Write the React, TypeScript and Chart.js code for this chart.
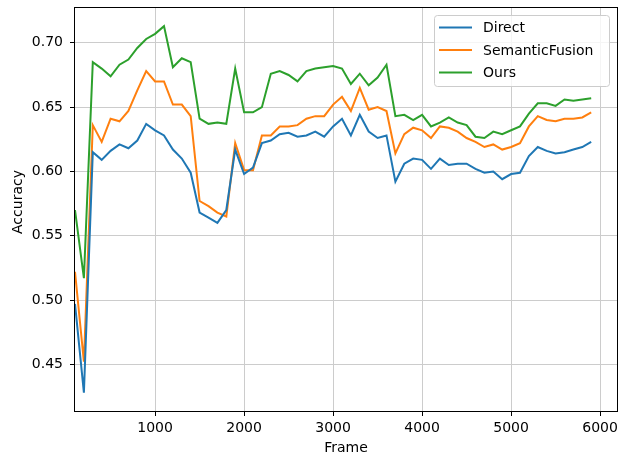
import { useEffect, useRef } from "react";
import { Chart, registerables } from "chart.js";

Chart.register(...registerables);

const frames = [
  100, 200, 300, 400, 500, 600, 700, 800, 900, 1000,
  1100, 1200, 1300, 1400, 1500, 1600, 1700, 1800, 1900, 2000,
  2100, 2200, 2300, 2400, 2500, 2600, 2700, 2800, 2900, 3000,
  3100, 3200, 3300, 3400, 3500, 3600, 3700, 3800, 3900, 4000,
  4100, 4200, 4300, 4400, 4500, 4600, 4700, 4800, 4900, 5000,
  5100, 5200, 5300, 5400, 5500, 5600, 5700, 5800, 5900,
];

const direct = [
  0.497, 0.428, 0.615, 0.609, 0.616, 0.621, 0.618, 0.624, 0.637, 0.632,
  0.628, 0.617, 0.610, 0.599, 0.568, 0.564, 0.560, 0.570, 0.617, 0.598,
  0.603, 0.622, 0.624, 0.629, 0.630, 0.627, 0.628, 0.631, 0.627, 0.635,
  0.641, 0.628, 0.644, 0.631, 0.626, 0.628, 0.592, 0.606, 0.610, 0.609,
  0.602, 0.610, 0.605, 0.606, 0.606, 0.602, 0.599, 0.600, 0.594, 0.598,
  0.599, 0.612, 0.619, 0.616, 0.614, 0.615, 0.617, 0.619, 0.623,
];

const semanticFusion = [
  0.522, 0.452, 0.636, 0.623, 0.641, 0.639, 0.647, 0.663, 0.678, 0.670,
  0.670, 0.652, 0.652, 0.643, 0.577, 0.573, 0.568, 0.565, 0.622, 0.601,
  0.601, 0.628, 0.628, 0.635, 0.635, 0.636, 0.641, 0.643, 0.643, 0.652,
  0.658, 0.647, 0.665, 0.648, 0.650, 0.647, 0.614, 0.629, 0.634, 0.632,
  0.626, 0.635, 0.634, 0.631, 0.626, 0.623, 0.619, 0.621, 0.617, 0.619,
  0.622, 0.635, 0.643, 0.640, 0.639, 0.641, 0.641, 0.642, 0.646,
];

const ours = [
  0.570, 0.517, 0.685, 0.680, 0.674, 0.683, 0.687, 0.696, 0.703, 0.707,
  0.713, 0.681, 0.688, 0.685, 0.641, 0.637, 0.638, 0.637, 0.680, 0.646,
  0.646, 0.650, 0.676, 0.678, 0.675, 0.670, 0.678, 0.680, 0.681, 0.682,
  0.680, 0.668, 0.676, 0.667, 0.673, 0.683, 0.643, 0.644, 0.640, 0.644,
  0.635, 0.638, 0.642, 0.638, 0.636, 0.627, 0.626, 0.631, 0.629, 0.632,
  0.635, 0.645, 0.653, 0.653, 0.651, 0.656, 0.655, 0.656, 0.657,
];

const seriesLabels = ["Direct", "SemanticFusion", "Ours"];
const seriesColors = ["#1f77b4", "#ff7f0e", "#2ca02c"];
const seriesValues = [direct, semanticFusion, ours];

const xTicks = [1000, 2000, 3000, 4000, 5000, 6000];
const yTicks = [0.45, 0.5, 0.55, 0.6, 0.65, 0.7];
const yTickLabels = ["0.45", "0.50", "0.55", "0.60", "0.65", "0.70"];

const FONT = "'DejaVu Sans', sans-serif";

export default function App() {
  const ref = useRef<HTMLCanvasElement>(null);

  useEffect(() => {
    document.body.style.margin = "0";
    const canvas = ref.current;
    if (!canvas) return;

    const framePlugin = {
      id: "frameAndLabels",
      afterDraw(chart: any) {
        const { ctx, chartArea } = chart;
        const { left, right, top, bottom } = chartArea;
        ctx.save();
        // spines
        ctx.strokeStyle = "#000";
        ctx.lineWidth = 1;
        ctx.strokeRect(Math.round(left) - 0.5, Math.round(top) - 0.5, Math.round(right - left) + 1, Math.round(bottom - top) + 1);

        // legend
        const bx = 434.5, by = 15.5, bw = 175, bh = 71;
        ctx.beginPath();
        (ctx as any).roundRect(bx, by, bw, bh, 3);
        ctx.fillStyle = "rgba(255,255,255,0.8)";
        ctx.fill();
        ctx.strokeStyle = "#cccccc";
        ctx.lineWidth = 1;
        ctx.stroke();
        ctx.font = `14px ${FONT}`;
        ctx.textBaseline = "middle";
        ctx.textAlign = "left";
        seriesLabels.forEach((lab, i) => {
          const y = 27.5 + i * 22.5;
          ctx.beginPath();
          ctx.strokeStyle = seriesColors[i];
          ctx.lineWidth = 2;
          ctx.moveTo(439, y);
          ctx.lineTo(472, y);
          ctx.stroke();
          ctx.fillStyle = "#000";
          ctx.fillText(lab, 483, y + 1);
        });

        // axis titles
        ctx.fillStyle = "#000";
        ctx.font = `14px ${FONT}`;
        ctx.textAlign = "center";
        ctx.textBaseline = "middle";
        ctx.fillText("Frame", (left + right) / 2, 448);
        ctx.translate(18, 202);
        ctx.rotate(-Math.PI / 2);
        ctx.fillText("Accuracy", 0, 0);
        ctx.restore();
      },
    };

    const chart = new Chart(canvas, {
      type: "line",
      data: {
        datasets: seriesValues.map((vals, i) => ({
          label: seriesLabels[i],
          data: frames.map((f, j) => ({ x: f, y: vals[j] })),
          borderColor: seriesColors[i],
          backgroundColor: seriesColors[i],
          borderWidth: 2,
          pointRadius: 0,
          tension: 0,
          fill: false,
        })),
      },
      options: {
        responsive: false,
        animation: false,
        layout: { padding: { top: 8, right: 4, left: 0, bottom: 0 } },
        plugins: {
          legend: { display: false },
          tooltip: { enabled: false },
        },
        scales: {
          x: {
            type: "linear",
            min: 100,
            max: 6190,
            afterBuildTicks: (s: any) => {
              s.ticks = xTicks.map((v) => ({ value: v }));
            },
            afterFit: (s: any) => {
              s.height = 46;
              s.paddingLeft = 0;
              s.paddingRight = 0;
            },
            grid: {
              color: "#cccccc",
              lineWidth: 1,
              tickColor: "#000",
              tickLength: 5,
              drawTicks: true,
            },
            border: { display: false },
            ticks: {
              color: "#000",
              font: { family: FONT, size: 14 },
              padding: 4,
              maxRotation: 0,
              autoSkip: false,
              callback: (v: any) => String(v),
            },
          },
          y: {
            type: "linear",
            min: 0.4137,
            max: 0.7271,
            afterBuildTicks: (s: any) => {
              s.ticks = yTicks.map((v) => ({ value: v }));
            },
            afterFit: (s: any) => {
              s.width = 75;
              s.paddingTop = 0;
              s.paddingBottom = 0;
            },
            grid: {
              color: "#cccccc",
              lineWidth: 1,
              tickColor: "#000",
              tickLength: 5,
              drawTicks: true,
            },
            border: { display: false },
            ticks: {
              color: "#000",
              font: { family: FONT, size: 14 },
              padding: 7,
              autoSkip: false,
              callback: (v: any) => {
                const idx = yTicks.findIndex((t) => Math.abs(t - v) < 1e-9);
                return idx >= 0 ? yTickLabels[idx] : "";
              },
            },
          },
        },
      },
      plugins: [framePlugin],
    });

    return () => chart.destroy();
  }, []);

  return <canvas ref={ref} width={621} height={457} style={{ display: "block" }} />;
}
